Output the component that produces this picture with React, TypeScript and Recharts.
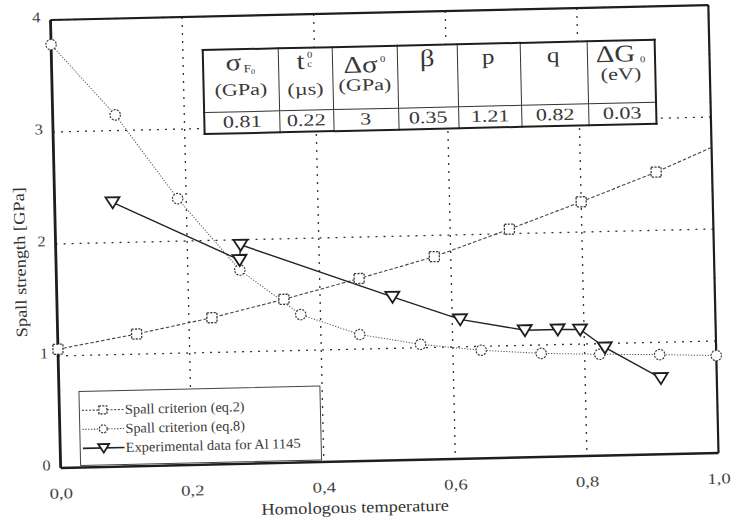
import React from 'react'
import { ComposedChart, Line, XAxis, YAxis, CartesianGrid, ReferenceLine, Legend } from 'recharts'

// Spall criterion (eq.2)
const eq2Temp = [0, 0.12, 0.235, 0.345, 0.46, 0.575, 0.69, 0.8, 0.915, 1.0]
const eq2Strength = [1.06, 1.18, 1.31, 1.46, 1.63, 1.81, 2.04, 2.27, 2.52, 2.73]

// Spall criterion (eq.8)
const eq8Temp = [0, 0.095, 0.187, 0.279, 0.37, 0.459, 0.551, 0.643, 0.734, 0.823, 0.914, 1.0]
const eq8Strength = [3.78, 3.14, 2.38, 1.73, 1.32, 1.13, 1.03, 0.965, 0.925, 0.905, 0.89, 0.87]

// Experimental data for Al 1145
const alTemp = [0.088, 0.279, 0.281, 0.51, 0.612, 0.71, 0.76, 0.794, 0.831, 0.915]
const alStrength = [2.36, 1.82, 1.955, 1.46, 1.245, 1.135, 1.135, 1.13, 0.965, 0.68]

const seriesNames = ['Spall criterion (eq.2)', 'Spall criterion (eq.8)', 'Experimental data for Al 1145']

const xTicks = [0, 0.2, 0.4, 0.6, 0.8, 1.0]
const xMinorTicks = [0, 0.04, 0.08, 0.12, 0.16, 0.2, 0.24, 0.28, 0.32, 0.36, 0.4, 0.44, 0.48, 0.52, 0.56, 0.6, 0.64, 0.68, 0.72, 0.76, 0.8, 0.84, 0.88, 0.92, 0.96, 1.0]
const yTicks = [0, 1, 2, 3, 4]
const yMinorTicks = [0, 0.2, 0.4, 0.6, 0.8, 1, 1.2, 1.4, 1.6, 1.8, 2, 2.2, 2.4, 2.6, 2.8, 3, 3.2, 3.4, 3.6, 3.8, 4]

// model parameters table
const paramUnits = ['(GPa)', '(µs)', '(GPa)', '', '', '', '(eV)']
const paramValues = ['0.81', '0.22', '3', '0.35', '1.21', '0.82', '0.03']

const zip = (xs: number[], ys: number[]) => xs.map((x, i) => ({ x, y: ys[i] }))
const eq2Data = zip(eq2Temp, eq2Strength)
const eq8Data = zip(eq8Temp, eq8Strength)
const alData = zip(alTemp, alStrength)

const FONT = 'Liberation Serif, DejaVu Serif, serif'
const INK = '#383838'

const squareMark = (cx: number, cy: number, s = 10, key?: string) => (
  <rect key={key} x={cx - s / 2} y={cy - s / 2} width={s} height={s} fill="#fff" stroke="#3a3a3a" strokeWidth={1.3} strokeDasharray="2.2 1.2" />
)
const circleMark = (cx: number, cy: number, r = 5.2, key?: string) => (
  <circle key={key} cx={cx} cy={cy} r={r} fill="#fff" stroke="#3a3a3a" strokeWidth={1.2} strokeDasharray="2 1.2" />
)
const triangleMark = (cx: number, cy: number, w = 7, key?: string) => (
  <polygon key={key} points={`${cx - w},${cy - w * 0.72} ${cx + w},${cy - w * 0.72} ${cx},${cy + w * 0.86}`} fill="#fff" stroke="#1e1e1e" strokeWidth={1.8} />
)

const SquareDot = (p: any) => {
  if (p.payload && p.payload.x >= 1) return <g key={`sq-${p.index}`} />
  return squareMark(p.cx, p.cy, 10, `sq-${p.index}`)
}
const CircleDot = (p: any) => circleMark(p.cx, p.cy, 5.2, `ci-${p.index}`)
const TriangleDot = (p: any) => triangleMark(p.cx, p.cy, 7, `tr-${p.index}`)

const XTick = (props: any) => {
  const { x, y, payload } = props
  return (
    <g transform={`translate(${x},${y})`}>
      <text transform="scale(1.25,1)" textAnchor="middle" dy="0.71em" fontSize={15} fill="#444" style={{ fontFamily: FONT }}>
        {Number(payload.value).toFixed(1).replace('.', ',')}
      </text>
    </g>
  )
}

const YTick = (props: any) => {
  const { x, y, payload } = props
  return (
    <g transform={`translate(${x},${y})`}>
      <text transform="scale(1.1,1)" textAnchor="end" y={-3} dy="0.34em" fontSize={15} fill="#444" style={{ fontFamily: FONT }}>
        {payload.value}
      </text>
    </g>
  )
}

const XTitle = () => (
  <g transform="translate(349,512)">
    <text transform="scale(1.15,1)" textAnchor="middle" fontSize={16} fill="#333" style={{ fontFamily: FONT }}>
      Homologous temperature
    </text>
  </g>
)

const YTitle = () => (
  <g transform="translate(25,254) rotate(-90)">
    <text transform="scale(1.15,1)" textAnchor="middle" fontSize={16} fill="#333" style={{ fontFamily: FONT }}>
      Spall strength [GPa]
    </text>
  </g>
)

const legendSample: Record<string, { dash?: string; width: number; stroke: string; mark: (cx: number, cy: number) => React.ReactNode }> = {
  [seriesNames[0]]: { dash: '2 1.6', width: 1.1, stroke: '#444', mark: (cx, cy) => squareMark(cx, cy, 8) },
  [seriesNames[1]]: { dash: '1.3 1.6', width: 1.1, stroke: '#444', mark: (cx, cy) => circleMark(cx, cy, 4) },
  [seriesNames[2]]: { width: 1.6, stroke: '#222', mark: (cx, cy) => triangleMark(cx, cy, 5.5) },
}

const LegendBox = (props: any) => {
  const items = (props.payload || [])
    .filter((e: any) => legendSample[e.value])
    .sort((a: any, b: any) => seriesNames.indexOf(a.value) - seriesNames.indexOf(b.value))
  return (
    <div style={{ width: 242, height: 75, boxSizing: 'border-box', border: '1px solid #444', background: '#fff', padding: '9px 0 0 2px', fontFamily: FONT, color: '#3a3a3a' }}>
      {items.map((entry: any) => {
        const s = legendSample[entry.value]
        return (
          <div key={entry.value} style={{ height: 19, display: 'flex', alignItems: 'center' }}>
            <svg width={42} height={19}>
              <line x1={0} x2={42} y1={9.5} y2={9.5} stroke={s.stroke} strokeWidth={s.width} strokeDasharray={s.dash} />
              {s.mark(21, 9.5)}
            </svg>
            <span style={{ marginLeft: 1, fontSize: 14, display: 'inline-block', transform: 'scaleX(1.03)', transformOrigin: 'left center', whiteSpace: 'nowrap' }}>{entry.value}</span>
          </div>
        )
      })}
    </div>
  )
}

const sym = { fontSize: 24 }
const subSmall = { fontSize: 11 }
const paramSymbols = [
  <span style={sym}>σ<span style={{ ...subSmall, verticalAlign: '-2px', marginLeft: 2 }}>F<span style={{ fontSize: 7, verticalAlign: '-2px' }}>0</span></span></span>,
  <span style={sym}>t<span style={{ display: 'inline-block', verticalAlign: '2px', lineHeight: '9px', fontSize: 9, marginLeft: 2, textAlign: 'left' }}>0<br />c</span></span>,
  <span style={sym}>Δσ<span style={{ fontSize: 9, verticalAlign: '10px', marginLeft: 2 }}>0</span></span>,
  <span style={sym}>β</span>,
  <span style={{ fontSize: 21 }}>p</span>,
  <span style={{ fontSize: 21 }}>q</span>,
  <span style={sym}>ΔG<span style={{ fontSize: 9, verticalAlign: '-1px', marginLeft: 4 }}>0</span></span>,
]
const unitTops = [31, 32, 29, 0, 0, 0, 24]
const colWidths = [75, 54, 65, 60, 63, 67, 68]

const ParamTable = () => {
  const cell = { border: '1.5px solid #333', padding: 0 }
  return (
    <table style={{ position: 'absolute', left: 206, top: 45, width: 452, borderCollapse: 'collapse', tableLayout: 'fixed', background: '#fff', border: '2px solid #1e1e1e', fontFamily: FONT, color: INK }}>
      <colgroup>
        {colWidths.map((w, i) => <col key={i} style={{ width: w }} />)}
      </colgroup>
      <tbody>
        <tr style={{ height: 61 }}>
          {paramSymbols.map((s, i) => (
            <td key={i} style={{ ...cell, verticalAlign: 'top' }}>
              <div style={{ position: 'relative', height: 61 }}>
                <div style={{ position: 'absolute', left: 0, right: 0, top: 0, lineHeight: '24px', textAlign: 'center' }}>
                  <span style={{ display: 'inline-block', transform: 'scaleX(1.2)' }}>{s}</span>
                </div>
                {paramUnits[i] && (
                  <div style={{ position: 'absolute', left: 0, right: 0, top: unitTops[i], lineHeight: '18px', fontSize: 17, textAlign: 'center' }}>
                    <span style={{ display: 'inline-block', transform: 'scaleX(1.3)' }}>{paramUnits[i]}</span>
                  </div>
                )}
              </div>
            </td>
          ))}
        </tr>
        <tr style={{ height: 21 }}>
          {paramValues.map((v, i) => (
            <td key={i} style={{ ...cell, textAlign: 'center', fontSize: 17, lineHeight: '20px' }}>
              <span style={{ display: 'inline-block', transform: 'scaleX(1.3)' }}>{v}</span>
            </td>
          ))}
        </tr>
      </tbody>
    </table>
  )
}

export default function App() {
  return (
    <div style={{ position: 'absolute', left: 0, top: 0, width: 732, height: 525, overflow: 'hidden', background: '#fff' }}>
      <div style={{ position: 'relative', width: 732, height: 525, transform: 'rotate(-1.3deg)', transformOrigin: '384.5px 236.5px', fontFamily: FONT }}>
        <ComposedChart width={732} height={525} margin={{ top: 12.5, right: 18.5, left: 0, bottom: 0 }} style={{ fontFamily: FONT }}>
          <CartesianGrid xAxisId="t" yAxisId="s" stroke="#333" strokeWidth={1.3} strokeDasharray="2 6" />
          <XAxis
            xAxisId="t"
            type="number"
            dataKey="x"
            domain={[0, 1]}
            ticks={xTicks}
            height={64.5}
            tickLine={false}
            tickSize={0}
            tickMargin={20}
            tick={<XTick />}
            axisLine={{ stroke: '#1e1e1e', strokeWidth: 2.5 }}
            label={XTitle}
          />
          <XAxis xAxisId="minor" type="number" domain={[0, 1]} ticks={xMinorTicks} mirror tick={false} axisLine={false} tickSize={6} tickLine={{ stroke: '#1e1e1e', strokeWidth: 1.8 }} />
          <YAxis
            yAxisId="s"
            type="number"
            domain={[0, 4]}
            ticks={yTicks}
            width={55.5}
            tickLine={false}
            tickSize={0}
            tickMargin={10}
            tick={<YTick />}
            axisLine={{ stroke: '#1e1e1e', strokeWidth: 2.8 }}
            label={YTitle}
          />
          <YAxis yAxisId="minor" type="number" domain={[0, 4]} ticks={yMinorTicks} mirror tick={false} axisLine={false} tickSize={6} tickLine={{ stroke: '#1e1e1e', strokeWidth: 1.8 }} />
          <ReferenceLine xAxisId="t" yAxisId="s" x={1} stroke="#1e1e1e" strokeWidth={2.2} />
          <ReferenceLine xAxisId="t" yAxisId="s" y={4} stroke="#1e1e1e" strokeWidth={2.2} />
          <Line
            xAxisId="t"
            yAxisId="s"
            data={eq2Data}
            dataKey="y"
            name={seriesNames[0]}
            type="linear"
            stroke="#444"
            strokeWidth={1.1}
            strokeDasharray="3.5 2"
            dot={SquareDot}
            activeDot={false}
            isAnimationActive={false}
          />
          <Line
            xAxisId="t"
            yAxisId="s"
            data={eq8Data}
            dataKey="y"
            name={seriesNames[1]}
            type="linear"
            stroke="#555"
            strokeWidth={1}
            strokeDasharray="1.2 1.6"
            dot={CircleDot}
            activeDot={false}
            isAnimationActive={false}
          />
          <Line
            xAxisId="t"
            yAxisId="s"
            data={alData}
            dataKey="y"
            name={seriesNames[2]}
            type="linear"
            stroke="#222"
            strokeWidth={1.4}
            dot={TriangleDot}
            activeDot={false}
            isAnimationActive={false}
          />
          <Legend
            layout="vertical"
            align="center"
            verticalAlign="middle"
            content={LegendBox}
            wrapperStyle={{ left: 75, top: 384, width: 242, height: 75 }}
          />
        </ComposedChart>
        <ParamTable />
      </div>
    </div>
  )
}
